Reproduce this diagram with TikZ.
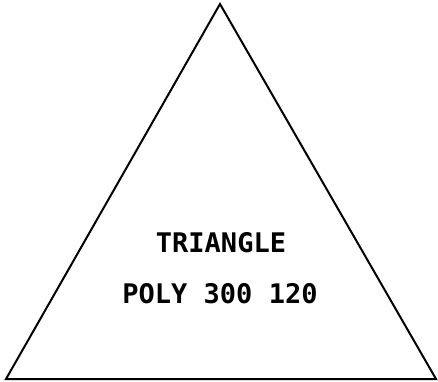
\documentclass[tikz,border=0pt]{standalone}
\usepackage{fontspec}
\newfontfamily\plotterfont{DejaVu Sans Mono}
\usepackage{tikz}
\definecolor{my_black}{HTML}{000000}

\begin{document}
\begin{tikzpicture}[
    x=1pt, y=-1pt,
    outline/.style={draw=my_black, line width=2pt, line join=miter},
    caption/.style={font=\plotterfont\bfseries\fontsize{27}{30}\selectfont, text=my_black, anchor=base, inner sep=0pt}
]

% --- Rahmen ---
\useasboundingbox (0,0) rectangle (438,381);

% --- Ecken des Dreiecks ---
\coordinate (C1) at (6, 379);
\coordinate (C2) at (436, 379);
\coordinate (C3) at (220, 4);

% --- Dreieck ---
\draw[outline] (C1) -- (C2) -- (C3) -- cycle;

% --- Beschriftung ---
\node[caption] (lbl_name) at (221, 252) {TRIANGLE};
\node[caption] (lbl_poly) at (220, 303) {POLY 300 120};

\end{tikzpicture}
\end{document}
